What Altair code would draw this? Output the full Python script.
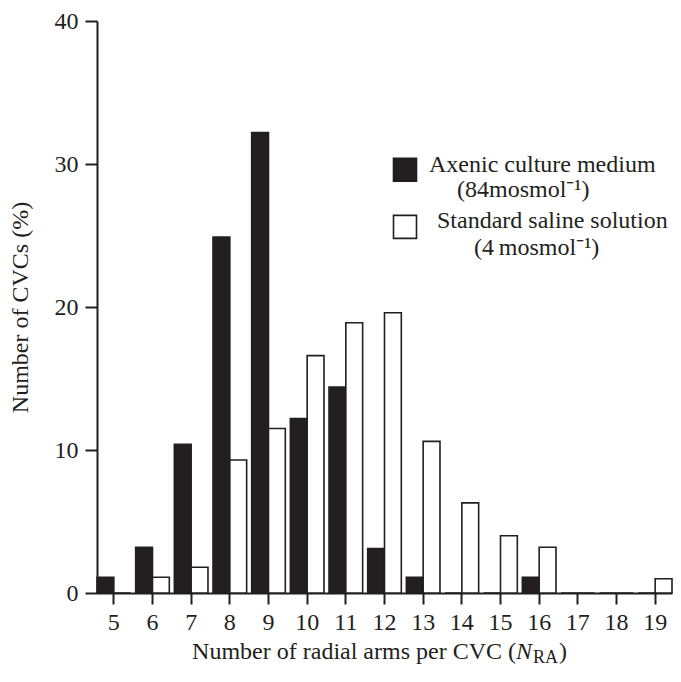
import altair as alt
import pandas as pd

# ---------------- data ----------------
arms = [5, 6, 7, 8, 9, 10, 11, 12, 13, 14, 15, 16, 17, 18, 19]
axenic = [1.1, 3.2, 10.4, 24.9, 32.2, 12.2, 14.4, 3.1, 1.1, 0, 0, 1.1, 0, 0, 0]
saline = [0, 1.1, 1.8, 9.3, 11.5, 16.6, 18.9, 19.6, 10.6, 6.3, 4.0, 3.2, 0, 0, 1.0]
series_names = ["Axenic culture medium", "Standard saline solution"]
series_fill = ["#231f20", "#ffffff"]
legend_sub = ["(84mosmol\u207b\u00b9)", "(4\u2009mosmol\u207b\u00b9)"]
y_ticks = [0, 10, 20, 30, 40]
x_title_main = "Number of radial arms per  CVC ("
x_title_sym = "N"
x_title_sub = "RA"
x_title_end = ")"
y_title = "Number of CVCs (%)"

# ---------------- style ----------------
W, H = 575, 572
FONT = "Liberation Serif"
INK = "#231f20"

df = pd.DataFrame({
    "arms": arms * 2,
    "series": [series_names[0]] * len(arms) + [series_names[1]] * len(arms),
    "pct": axenic + saline,
})

bars = alt.Chart(df).mark_bar(stroke=INK, strokeWidth=1.6).encode(
    x=alt.X(
        "arms:O",
        title=None,
        scale=alt.Scale(paddingInner=0.13, paddingOuter=0.0),
        axis=alt.Axis(
            labelAngle=0, labelFont=FONT, labelFontSize=24, labelColor=INK,
            labelPadding=6, tickSize=11, tickWidth=2, tickColor=INK,
            domainColor=INK, domainWidth=2, grid=False,
        ),
    ),
    xOffset=alt.XOffset("series:N", sort=series_names,
                        scale=alt.Scale(paddingInner=0, paddingOuter=0)),
    y=alt.Y(
        "pct:Q",
        title=y_title,
        scale=alt.Scale(domain=[0, 40], nice=False, zero=True),
        axis=alt.Axis(
            values=y_ticks, labelFont=FONT, labelFontSize=24, labelColor=INK,
            labelPadding=7, tickSize=12, tickWidth=2, tickColor=INK,
            domainColor=INK, domainWidth=2, grid=False,
            titleFont=FONT, titleFontSize=24, titleFontWeight="normal",
            titleColor=INK, titlePadding=22,
        ),
    ),
    fill=alt.Fill("series:N", scale=alt.Scale(domain=series_names, range=series_fill),
                  legend=None),
)

# ---------------- x-axis title with italic N and subscript RA ----------------
XN = 419
TB = H + 66


def txt(s, **kw):
    return alt.Chart(pd.DataFrame({"t": [s]})).mark_text(
        font=FONT, color=INK, **kw
    ).encode(text="t:N")


t_main = txt(x_title_main, fontSize=24, align="right", baseline="alphabetic").encode(
    x=alt.value(XN), y=alt.value(TB))
t_sym = txt(x_title_sym, fontSize=24, fontStyle="italic", align="left",
            baseline="alphabetic").encode(x=alt.value(XN), y=alt.value(TB))
t_sub = txt(x_title_sub, fontSize=18, align="left", baseline="alphabetic").encode(
    x=alt.value(XN + 17), y=alt.value(TB + 4))
t_end = txt(x_title_end, fontSize=24, align="left", baseline="alphabetic").encode(
    x=alt.value(XN + 17 + 26), y=alt.value(TB))

# ---------------- legend ----------------
LX = 308
leg_y_square = [29.6, 25.6]
leg_y_name = [29.95, 26.0]
leg_y_sub = [28.2, 24.1]
name_dx = [24, 32]
sub_dx = [52, 69]

legend_layers = []
for i in range(2):
    sq = alt.Chart(pd.DataFrame({"s": [series_names[i]]})).mark_square(
        size=23 * 23, filled=True, fill=series_fill[i], stroke=INK,
        strokeWidth=1.6, opacity=1,
    ).encode(x=alt.value(LX), y=alt.datum(leg_y_square[i]))
    nm = txt(series_names[i], fontSize=24, align="left", baseline="middle").encode(
        x=alt.value(LX + name_dx[i]), y=alt.datum(leg_y_name[i]))
    sb = txt(legend_sub[i], fontSize=24, align="left", baseline="middle").encode(
        x=alt.value(LX + sub_dx[i]), y=alt.datum(leg_y_sub[i]))
    legend_layers += [sq, nm, sb]

chart = alt.layer(bars, t_main, t_sym, t_sub, t_end, *legend_layers).properties(
    width=W,
    height=H,
    autosize=alt.AutoSizeParams(type="none"),
    padding={"left": 89, "top": 13, "right": 1, "bottom": 77},
    background="white",
).configure_view(stroke=None)

chart.save("out.html", embed_options={"renderer": "svg", "actions": False})
